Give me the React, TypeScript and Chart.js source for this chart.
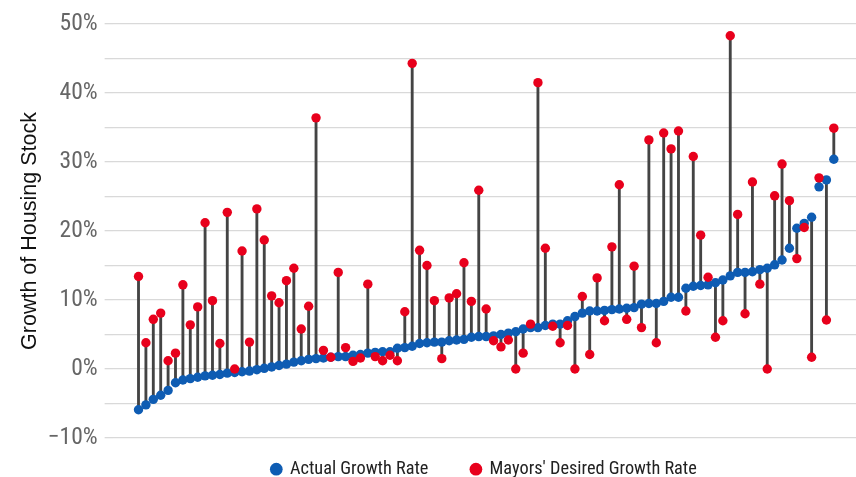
import React, { useEffect, useRef } from "react";
import { Chart, registerables } from "chart.js";

Chart.register(...registerables);

const actualGrowth: number[] = [
  -5.9, -5.2, -4.4, -3.8, -3.1, -2.0, -1.6, -1.4, -1.2, -1.0,
  -0.9, -0.8, -0.6, -0.5, -0.4, -0.3, -0.1, 0.1, 0.3, 0.5,
  0.7, 1.0, 1.2, 1.4, 1.5, 1.6, 1.7, 1.8, 1.8, 2.0,
  2.1, 2.3, 2.4, 2.5, 2.5, 3.0, 3.1, 3.3, 3.7, 3.8,
  3.9, 3.9, 4.1, 4.2, 4.3, 4.6, 4.7, 4.7, 4.8, 5.0,
  5.2, 5.4, 5.8, 6.0, 6.0, 6.3, 6.5, 6.5, 7.0, 7.6,
  8.1, 8.4, 8.4, 8.5, 8.6, 8.7, 8.8, 8.9, 9.4, 9.5,
  9.5, 9.8, 10.4, 10.4, 11.7, 12.0, 12.1, 12.2, 12.5, 12.9,
  13.5, 14.0, 14.0, 14.1, 14.4, 14.6, 15.1, 15.8, 17.5, 20.4,
  21.1, 22.0, 26.4, 27.4, 30.4,
];

const desiredGrowth: number[] = [
  13.4, 3.8, 7.2, 8.1, 1.2, 2.3, 12.2, 6.4, 9.0, 21.2,
  9.9, 3.7, 22.7, 0.0, 17.1, 3.9, 23.2, 18.7, 10.6, 9.6,
  12.8, 14.6, 5.8, 9.1, 36.4, 2.7, 1.7, 14.0, 3.1, 1.1,
  1.6, 12.3, 1.8, 1.2, 2.0, 1.2, 8.3, 44.3, 17.2, 15.0,
  9.9, 1.5, 10.3, 10.9, 15.4, 9.8, 25.9, 8.7, 4.1, 3.2,
  4.2, 0.0, 2.3, 6.5, 41.5, 17.5, 6.2, 3.8, 6.3, 0.0,
  10.5, 2.1, 13.2, 7.0, 17.7, 26.7, 7.2, 14.9, 6.0, 33.2,
  3.8, 34.2, 31.9, 34.5, 8.4, 30.8, 19.4, 13.3, 4.6, 7.0,
  48.3, 22.4, 8.0, 27.1, 12.3, 0.0, 25.1, 29.7, 24.4, 16.0,
  20.5, 1.7, 27.7, 7.1, 34.9,
];

const seriesNames: string[] = ["Actual Growth Rate", "Mayors' Desired Growth Rate"];
const yAxisTitle = "Growth of Housing Stock";
const yTickValues: number[] = [-10, 0, 10, 20, 30, 40, 50];

const CONDENSED = "'Roboto Condensed', 'Liberation Sans Narrow', Roboto, sans-serif";
const TITLE_FONT = "'Liberation Sans', Arial, sans-serif";

export default function App() {
  const canvasRef = useRef<HTMLCanvasElement | null>(null);

  useEffect(() => {
    const canvas = canvasRef.current;
    if (!canvas) return;

    const actualPts = actualGrowth.map((y, i) => ({ x: i, y }));
    const desiredPts = desiredGrowth.map((y, i) => ({ x: i, y }));
    const connectors = actualGrowth.map((a, i) => ({ x: i, y: [a, desiredGrowth[i]] }));

    const chart = new Chart(canvas, {
      type: "bar",
      data: {
        datasets: [
          {
            type: "line",
            label: seriesNames[1],
            data: desiredPts as any,
            showLine: false,
            pointRadius: 4.7,
            pointHoverRadius: 4.7,
            pointBackgroundColor: "#e8001c",
            pointBorderWidth: 0,
            backgroundColor: "#e8001c",
            borderColor: "#e8001c",
          } as any,
          {
            type: "line",
            label: seriesNames[0],
            data: actualPts as any,
            showLine: false,
            pointRadius: 4.7,
            pointHoverRadius: 4.7,
            pointBackgroundColor: "#0e5cb3",
            pointBorderWidth: 0,
            backgroundColor: "#0e5cb3",
            borderColor: "#0e5cb3",
          } as any,
          {
            type: "bar",
            label: "connector",
            data: connectors as any,
            backgroundColor: "#444444",
            borderWidth: 0,
            barThickness: 2.2,
          } as any,
        ],
      },
      options: {
        animation: false,
        responsive: false,
        maintainAspectRatio: false,
        layout: { autoPadding: false, padding: { top: 24, right: 0, left: 17, bottom: -11.3 } },
        plugins: {
          tooltip: { enabled: false },
          legend: {
            position: "bottom",
            fullSize: false,
            labels: {
              usePointStyle: true,
              pointStyle: "circle",
              boxWidth: 9,
              boxHeight: 9,
              padding: 22,
              color: "#222",
              font: { family: CONDENSED, size: 18.3 },
              filter: (item: any) => item.datasetIndex !== 2,
              sort: (a: any, b: any) => b.datasetIndex - a.datasetIndex,
              generateLabels: (ch: any) => {
                const base = Chart.defaults.plugins.legend.labels.generateLabels(ch);
                return base.map((it: any) =>
                  it.datasetIndex === 1 ? { ...it, text: it.text + "     " } : it
                );
              },
            },
          },
        },
        scales: {
          x: {
            type: "linear",
            min: -3.5,
            max: 97,
            offset: false,
            display: false,
          },
          y: {
            type: "linear",
            min: -10,
            max: 50,
            border: { display: false },
            grid: {
              color: "#d9d9d9",
              lineWidth: 1.3,
              tickLength: 8,
            },
            ticks: {
              stepSize: 5,
              padding: 7,
              color: "#666",
              font: { family: CONDENSED, size: 23.5 },
              callback: (v: any) => {
                const n = Number(v);
                if (!yTickValues.includes(n)) return "";
                return (n < 0 ? "\u2212" + Math.abs(n) : String(n)) + "%";
              },
            },
            title: {
              display: true,
              text: yAxisTitle,
              color: "#111",
              font: { family: TITLE_FONT, size: 21.5 },
              padding: { top: 0, bottom: -2 },
            },
          },
        },
      } as any,
    });

    return () => chart.destroy();
  }, []);

  return (
    <div style={{ position: "fixed", left: 0, top: 0, width: 856, height: 477, background: "#fff" }}>
      <canvas ref={canvasRef} width={856} height={477} style={{ width: 856, height: 477 }} />
    </div>
  );
}
